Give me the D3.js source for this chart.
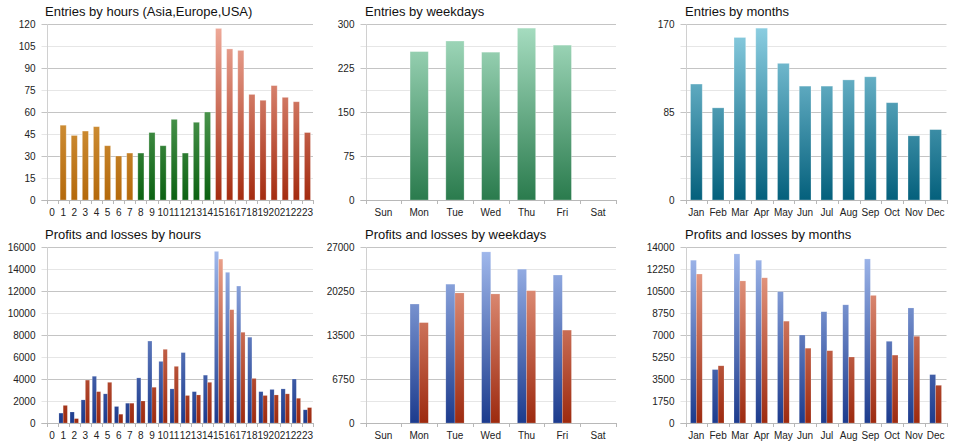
<!DOCTYPE html>
<html>
<head>
<meta charset="utf-8">
<script src="https://cdn.jsdelivr.net/npm/d3@7"></script>
<style>
html,body{margin:0;padding:0;background:#fff;}
svg{display:block;font-family:"Liberation Sans",Arial,sans-serif;}
</style>
</head>
<body>
<svg id="chart" width="960" height="446"></svg>
<script>
// ---------- DATA ----------
const hourLabels = ["0","1","2","3","4","5","6","7","8","9","10","11","12","13","14","15","16","17","18","19","20","21","22","23"];
const hourRegion = ["Asia","Asia","Asia","Asia","Asia","Asia","Asia","Asia","Europe","Europe","Europe","Europe","Europe","Europe","Europe","USA","USA","USA","USA","USA","USA","USA","USA","USA"];
const hourEntries = [0,51,44,47,50,37,30,32,32,46,37,55,32,53,60,117,103,102,72,68,78,70,67,46];
const hourProfits = [0,900,1000,2100,4250,2650,1500,1800,4100,7450,5600,3100,6400,2850,4350,15600,13700,12450,7800,2850,3050,3100,4000,1200];
const hourLosses  = [0,1600,400,3900,2850,3700,800,1800,2000,3250,6700,5150,2500,2550,3700,14900,10300,8250,4050,2500,2550,2650,2250,1400];

const weekdayLabels = ["Sun","Mon","Tue","Wed","Thu","Fri","Sat"];
const weekdayEntries = [0,253,271,252,293,264,0];
const weekdayProfits = [0,18250,21300,26250,23600,22700,0];
const weekdayLosses  = [0,15400,19950,19800,20300,14250,0];

const monthLabels = ["Jan","Feb","Mar","Apr","May","Jun","Jul","Aug","Sep","Oct","Nov","Dec"];
const monthEntries = [112,89,157,166,132,110,110,116,119,94,62,68];
const monthProfits = [12950,4250,13450,12950,10450,7000,8850,9400,13050,6500,9150,3850];
const monthLosses  = [11850,4550,11300,11550,8100,5950,5750,5250,10150,5400,6900,3000];

// tick labels
const hourEntryTicks = [0,15,30,45,60,75,90,105,120];
const hourPLTicks = [0,2000,4000,6000,8000,10000,12000,14000,16000];
const weekdayEntryTicks = [0,75,150,225,300];
const weekdayPLTicks = [0,6750,13500,20250,27000];
const monthEntryTicks = [0,85,170];
const monthPLTicks = [0,1750,3500,5250,7000,8750,10500,12250,14000];

const titles = ["Entries by hours (Asia,Europe,USA)","Entries by weekdays","Entries by months",
                "Profits and losses by hours","Profits and losses by weekdays","Profits and losses by months"];

// ---------- LAYOUT ----------
const svg = d3.select("#chart");
const plotTop = 24, plotBottom = 200;

const gradDefs = {
  asia:   ["#edba68","#b4690b"],
  europe: ["#86c486","#0c6212"],
  usa:    ["#f0ac9c","#a42c10"],
  week:   ["#a8dec2","#2a7b4d"],
  month:  ["#8ed0e3","#04607c"],
  profit: ["#a3bbee","#1c3b8d"],
  loss:   ["#efa892","#9d2a0f"]
};
const defs = svg.append("defs");
Object.entries(gradDefs).forEach(([k,[top,bot]])=>{
  const g = defs.append("linearGradient").attr("id","g-"+k)
    .attr("gradientUnits","userSpaceOnUse").attr("x1",0).attr("x2",0)
    .attr("y1",plotTop).attr("y2",plotBottom);
  g.append("stop").attr("offset","0%").attr("stop-color",top);
  g.append("stop").attr("offset","100%").attr("stop-color",bot);
});

function panel(cfg){
  const g = svg.append("g").attr("transform",`translate(${cfg.x},${cfg.y})`);
  const left = cfg.left, right = cfg.left + cfg.width;
  const x = d3.scaleBand().domain(cfg.cats).range([left,right]).paddingInner(0).paddingOuter(0);
  const y = d3.scaleLinear().domain([0,cfg.max]).range([plotBottom,plotTop]);

  // grid lines (8 divisions, every other one darker)
  const step = cfg.max/8;
  const grid = d3.range(0,9).map(i=>i*step);
  g.selectAll(".grid").data(grid).enter().append("line")
    .attr("x1",left-5).attr("x2",right)
    .attr("y1",d=>Math.round(y(d))+0.5).attr("y2",d=>Math.round(y(d))+0.5)
    .attr("stroke",(d,i)=> i%2===0 ? "#c4c4c4" : "#e6e6e6")
    .attr("stroke-width",1);

  // y axis line
  g.append("line").attr("x1",Math.round(left)+0.5).attr("x2",Math.round(left)+0.5)
    .attr("y1",plotTop).attr("y2",plotBottom+4).attr("stroke","#d0d0d0");

  // y labels via axis
  const yAxis = d3.axisLeft(y).tickValues(cfg.ticks).tickSize(0).tickPadding(11).tickFormat(d3.format("d"));
  const ya = g.append("g").attr("transform",`translate(${left},0)`).call(yAxis);
  ya.select(".domain").remove();
  ya.selectAll("text").attr("font-size",10).attr("fill","#222").attr("font-family","Liberation Sans, Arial, sans-serif");

  // x axis
  const xa = g.append("g").attr("transform",`translate(0,${plotBottom})`)
    .call(d3.axisBottom(x).tickSize(0).tickPadding(9));
  xa.select(".domain").remove();
  xa.selectAll("text").attr("font-size",10).attr("fill","#222").attr("font-family","Liberation Sans, Arial, sans-serif");
  // tick marks at band boundaries
  const bounds = cfg.cats.map(c=>x(c)).concat([right]);
  g.selectAll(".xt").data(bounds).enter().append("line")
    .attr("x1",d=>Math.round(d)+0.5).attr("x2",d=>Math.round(d)+0.5)
    .attr("y1",plotBottom).attr("y2",plotBottom+4).attr("stroke","#b8b8b8");

  // bars
  const bw = x.bandwidth()*cfg.barFrac;
  const off = (x.bandwidth()-bw)/2;
  if(cfg.single){
    g.selectAll(".bar").data(cfg.cats).enter().append("rect")
      .attr("x",(c)=>x(c)+off).attr("width",bw)
      .attr("y",(c,i)=>y(cfg.single[i])).attr("height",(c,i)=>plotBottom-y(cfg.single[i]))
      .attr("fill",(c,i)=>"url(#g-"+cfg.color(i)+")")
      .attr("stroke","rgba(255,255,255,0.35)").attr("stroke-width",0.8);
  } else {
    const half = bw/2;
    [[cfg.a,"profit",0],[cfg.b,"loss",1]].forEach(([vals,col,k])=>{
      g.selectAll(".bar"+k).data(cfg.cats).enter().append("rect")
        .attr("x",(c)=>x(c)+off+k*half).attr("width",half)
        .attr("y",(c,i)=>y(vals[i])).attr("height",(c,i)=>plotBottom-y(vals[i]))
        .attr("fill","url(#g-"+col+")")
        .attr("stroke","rgba(255,255,255,0.3)").attr("stroke-width",0.6);
    });
  }
  // x axis line
  g.append("line").attr("x1",left-5).attr("x2",right)
    .attr("y1",plotBottom+0.5).attr("y2",plotBottom+0.5).attr("stroke","#b8b8b8");

  // title
  g.append("text").attr("x",45).attr("y",16).attr("font-size",13).attr("fill","#111").text(cfg.title);
}

const regionColor = {Asia:"asia",Europe:"europe",USA:"usa"};
panel({x:0,y:0,left:46.5,width:266.5,cats:hourLabels,max:120,ticks:hourEntryTicks,single:hourEntries,
       color:i=>regionColor[hourRegion[i]],barFrac:0.55,title:titles[0]});
panel({x:320,y:0,left:45.5,width:250.5,cats:weekdayLabels,max:300,ticks:weekdayEntryTicks,single:weekdayEntries,
       color:()=> "week",barFrac:0.51,title:titles[1]});
panel({x:640,y:0,left:45.5,width:261,cats:monthLabels,max:170,ticks:monthEntryTicks,single:monthEntries,
       color:()=> "month",barFrac:0.54,title:titles[2]});
panel({x:0,y:223,left:46.5,width:266.5,cats:hourLabels,max:16000,ticks:hourPLTicks,a:hourProfits,b:hourLosses,
       barFrac:0.76,title:titles[3]});
panel({x:320,y:223,left:45.5,width:250.5,cats:weekdayLabels,max:27000,ticks:weekdayPLTicks,a:weekdayProfits,b:weekdayLosses,
       barFrac:0.51,title:titles[4]});
panel({x:640,y:223,left:45.5,width:261,cats:monthLabels,max:14000,ticks:monthPLTicks,a:monthProfits,b:monthLosses,
       barFrac:0.54,title:titles[5]});
</script>
</body>
</html>
